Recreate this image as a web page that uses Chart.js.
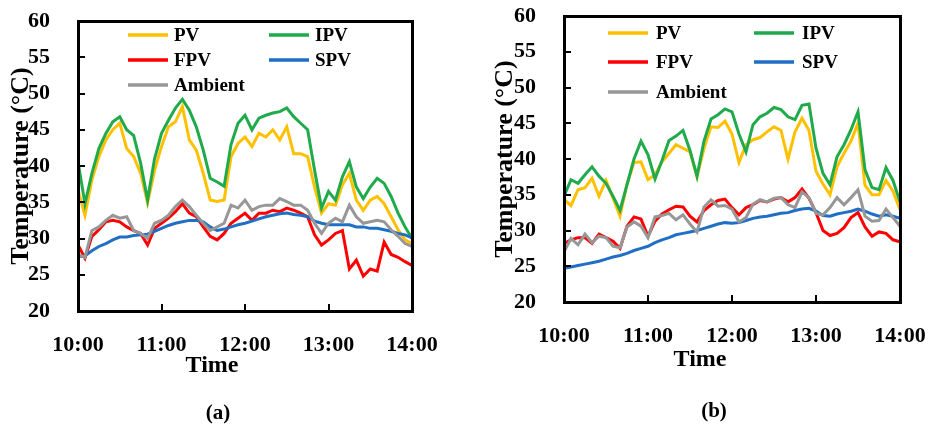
<!DOCTYPE html>
<html>
<head>
<meta charset="UTF-8">
<title>PV module temperatures</title>
<script src="https://cdn.jsdelivr.net/npm/chart.js@4.4.0/dist/chart.umd.min.js"></script>
<style>
  body { margin: 0; background: #fff; }
  #wrap { position: relative; width: 928px; height: 429px; overflow: hidden;
          font-family: 'Liberation Serif', 'Times New Roman', serif; font-weight: bold; color: #000; }
  #wrap canvas { position: absolute; top: 0; }
  .lbl { position: absolute; transform: translate(-50%, -50%); white-space: nowrap; }
  .box { position: absolute; border: 3px solid #000; box-sizing: border-box; z-index: 3; }
  .tick { position: absolute; background: #000; z-index: 3; }
</style>
<script>
// minutes after 10:00, one reading every 5 minutes
var minutes = [0, 5, 10, 15, 20, 25, 30, 35, 40, 45, 50, 55, 60, 65, 70, 75, 80, 85, 90, 95,
    100, 105, 110, 115, 120, 125, 130, 135, 140, 145, 150, 155, 160, 165, 170, 175, 180, 185, 190, 195,
    200, 205, 210, 215, 220, 225, 230, 235, 240];
var timeLabels = ['10:00', '11:00', '12:00', '13:00', '14:00'];
var seriesNames = ['PV', 'IPV', 'FPV', 'SPV', 'Ambient'];

// panel (a)
var pvA = [36.7, 33.2, 38.1, 41.3, 43.6, 45.0, 45.9, 42.4, 41.3, 39.0, 34.9, 39.4, 42.7, 45.4, 46.1, 48.2, 43.6, 42.2, 39.0, 35.3,
    35.1, 35.3, 41.3, 43.1, 44.0, 42.7, 44.5, 44.0, 45.0, 43.6, 45.4, 41.7, 41.7, 41.3, 37.1, 33.5, 34.8, 34.6, 37.4, 39.0,
    35.3, 33.9, 35.3, 35.8, 34.8, 33.0, 31.2, 29.8, 29.3];
var ipvA = [40.6, 34.8, 39.0, 42.4, 44.5, 46.1, 46.8, 45.0, 44.2, 40.4, 35.3, 41.0, 44.5, 46.3, 48.0, 49.2, 47.7, 45.4, 42.2, 38.3,
    37.8, 37.2, 43.0, 45.9, 47.0, 45.0, 46.6, 47.0, 47.3, 47.5, 48.0, 46.8, 45.9, 45.0, 39.4, 34.2, 36.5, 35.3, 38.5, 40.6,
    37.1, 35.5, 37.1, 38.3, 37.6, 35.8, 33.5, 31.6, 30.0];
var fpvA = [29.1, 27.3, 30.3, 31.2, 32.3, 32.5, 32.3, 31.6, 31.1, 30.7, 29.1, 31.4, 32.1, 32.8, 33.7, 34.8, 33.5, 33.0, 31.6, 30.3,
    29.8, 30.7, 32.1, 32.8, 33.5, 32.5, 33.5, 33.5, 33.9, 33.7, 34.2, 33.9, 33.5, 33.0, 30.5, 29.1, 29.8, 30.7, 31.1, 25.8,
    27.0, 24.8, 25.8, 25.5, 29.5, 27.8, 27.4, 26.8, 26.3];
var spvA = [27.5, 27.6, 28.3, 28.9, 29.3, 29.8, 30.2, 30.2, 30.4, 30.5, 30.6, 31.0, 31.4, 31.8, 32.1, 32.3, 32.5, 32.5, 32.3, 31.6,
    31.1, 31.3, 31.6, 31.9, 32.1, 32.4, 32.7, 33.0, 33.2, 33.4, 33.5, 33.3, 33.2, 33.0, 32.4, 32.1, 31.9, 31.9, 31.9, 31.9,
    31.6, 31.6, 31.4, 31.4, 31.2, 31.0, 30.7, 30.5, 30.1];
var ambA = [27.8, 27.4, 31.1, 31.6, 32.5, 33.2, 32.8, 33.0, 31.1, 30.7, 30.0, 32.1, 32.5, 33.2, 34.4, 35.3, 34.4, 33.2, 32.1, 31.1,
    31.6, 32.1, 34.6, 34.2, 35.3, 33.9, 34.4, 34.6, 34.6, 35.5, 35.1, 34.6, 34.6, 33.9, 32.1, 30.7, 32.1, 32.8, 32.3, 34.6,
    33.0, 32.1, 32.3, 32.5, 32.3, 31.2, 30.3, 29.3, 28.9];

// panel (b)
var pvB = [34.3, 33.5, 35.7, 36.0, 37.3, 34.8, 37.0, 34.5, 32.0, 36.5, 39.5, 39.6, 37.1, 37.8, 39.6, 40.8, 42.0, 41.5, 41.0, 37.5,
    41.5, 44.5, 44.4, 45.3, 43.5, 39.5, 42.0, 42.7, 43.0, 43.8, 44.5, 44.0, 40.0, 43.8, 45.7, 44.0, 38.3, 36.5, 35.0, 38.9,
    40.8, 42.5, 45.0, 36.3, 35.0, 35.0, 37.0, 35.5, 32.9];
var ipvB = [34.8, 37.1, 36.6, 37.8, 38.9, 37.6, 36.6, 34.8, 32.8, 36.4, 40.0, 42.5, 40.6, 37.2, 39.8, 42.6, 43.2, 44.0, 41.2, 37.6,
    42.5, 45.6, 46.2, 47.0, 46.6, 43.5, 41.0, 44.8, 45.9, 46.4, 47.2, 46.9, 45.9, 45.5, 47.5, 47.7, 41.5, 38.0, 36.4, 40.3,
    42.0, 44.1, 46.6, 38.5, 36.0, 35.7, 38.8, 37.0, 34.0];
var fpvB = [28.2, 28.7, 29.0, 29.0, 28.2, 29.5, 29.0, 28.5, 27.5, 30.6, 31.9, 31.6, 29.2, 31.3, 32.3, 32.9, 33.4, 33.3, 32.0, 31.2,
    32.8, 33.6, 34.2, 34.4, 33.2, 32.2, 33.2, 33.6, 34.2, 34.0, 34.4, 34.6, 34.0, 34.6, 35.8, 34.5, 32.5, 30.0, 29.3, 29.6,
    30.4, 31.8, 32.5, 30.5, 29.2, 29.8, 29.6, 28.7, 28.4];
var spvB = [24.7, 24.9, 25.1, 25.3, 25.5, 25.7, 26.0, 26.3, 26.5, 26.8, 27.2, 27.5, 27.8, 28.3, 28.7, 29.0, 29.4, 29.6, 29.8, 30.0,
    30.3, 30.6, 30.9, 31.1, 31.0, 31.1, 31.4, 31.7, 31.9, 32.0, 32.2, 32.4, 32.5, 32.8, 33.0, 33.1, 32.7, 32.1, 32.0, 32.3,
    32.5, 32.7, 33.0, 32.7, 32.3, 32.0, 32.2, 32.0, 31.7];
var ambB = [27.0, 28.9, 28.0, 29.5, 28.3, 29.2, 29.0, 27.8, 27.6, 30.5, 31.2, 30.6, 29.0, 31.9, 32.1, 32.4, 31.5, 32.2, 30.9, 29.8,
    33.3, 34.3, 33.4, 33.5, 33.0, 31.2, 31.8, 33.7, 34.3, 34.0, 34.5, 34.6, 33.6, 33.2, 35.4, 34.6, 32.4, 32.2, 33.2, 34.6,
    33.6, 34.6, 35.7, 32.0, 31.3, 31.4, 33.0, 31.8, 30.6];

var seriesColors = ['#FFC000', '#1FAA4B', '#FF0000', '#1F6FC5', '#979797'];

function points(vals) {
    return vals.map(function (v, i) { return {x: minutes[i], y: v}; });
}

// two-column legend inside the plot
function makeLegend() {
    return {
        id: 'insideLegend',
        afterDraw: function (chart, args, opts) {
            var ctx = chart.ctx, a = chart.chartArea;
            ctx.save();
            ctx.font = 'bold 19px "Liberation Serif"';
            ctx.textBaseline = 'middle';
            chart.data.datasets.forEach(function (ds, i) {
                var lx = a.left + opts.cols[i % 2];
                var ly = a.top + opts.rows[Math.floor(i / 2)];
                ctx.fillStyle = ds.borderColor;
                ctx.fillRect(lx, ly - 1.75, opts.lineLen, 3.5);
                ctx.fillStyle = 'black';
                ctx.fillText(ds.label, lx + opts.lineLen + opts.gap, ly + 1);
            });
            ctx.restore();
        }
    };
}

// black box and inward ticks laid over the canvas, placed from the chart's own scales
function addFrame(chart, offsetLeft) {
    var wrap = document.getElementById('wrap');
    var a = chart.chartArea, x = chart.scales.x, y = chart.scales.y;
    var box = document.createElement('div');
    box.className = 'box';
    box.style.left = (offsetLeft + a.left - 1.5) + 'px';
    box.style.top = (a.top - 1.5) + 'px';
    box.style.width = (a.right - a.left + 3) + 'px';
    box.style.height = (a.bottom - a.top + 3) + 'px';
    wrap.appendChild(box);
    x.ticks.forEach(function (t) {
        if (t.value > x.min && t.value < x.max) {
            var d = document.createElement('div');
            d.className = 'tick';
            d.style.left = (offsetLeft + x.getPixelForValue(t.value) - 1) + 'px';
            d.style.top = (a.bottom - 7) + 'px';
            d.style.width = '2px';
            d.style.height = '7px';
            wrap.appendChild(d);
        }
    });
    y.ticks.forEach(function (t) {
        if (t.value > y.min && t.value < y.max) {
            var d = document.createElement('div');
            d.className = 'tick';
            d.style.left = (offsetLeft + a.left) + 'px';
            d.style.top = (y.getPixelForValue(t.value) - 1) + 'px';
            d.style.width = '7px';
            d.style.height = '2px';
            wrap.appendChild(d);
        }
    });
}

function makeChart(id, seriesList, lay) {
    var ctx = document.getElementById(id).getContext('2d');
    var chart = new Chart(ctx, {
        type: 'line',
        data: {
            datasets: seriesList.map(function (vals, i) {
                return {
                    label: seriesNames[i],
                    data: points(vals),
                    borderColor: seriesColors[i],
                    backgroundColor: seriesColors[i],
                    borderWidth: 3,
                    pointRadius: 0,
                    tension: 0,
                    order: seriesList.length - i
                };
            })
        },
        options: {
            responsive: false,
            animation: false,
            layout: {padding: {top: lay.top, right: lay.right, bottom: lay.bottom, left: 0}},
            plugins: {
                legend: {display: false},
                tooltip: {enabled: false},
                insideLegend: lay.legend
            },
            scales: {
                x: {
                    type: 'linear',
                    min: 0,
                    max: 240,
                    grid: {display: false},
                    border: {display: false},
                    ticks: {
                        stepSize: 60,
                        padding: 13,
                        color: '#000',
                        font: {family: 'Liberation Serif', size: 22, weight: 'bold'},
                        callback: function (v) { return timeLabels[v / 60]; }
                    },
                    afterFit: function (s) { s.height = 40; s.paddingLeft = 0; s.paddingRight = 0; }
                },
                y: {
                    min: 20,
                    max: 60,
                    grid: {display: false},
                    border: {display: false},
                    ticks: {
                        stepSize: 5,
                        padding: 20,
                        color: '#000',
                        font: {family: 'Liberation Serif', size: 22, weight: 'bold'}
                    },
                    title: {
                        display: true,
                        text: 'Temperature (\u00B0C)',
                        color: '#000',
                        padding: {top: lay.titlePad, bottom: 0},
                        font: {family: 'Liberation Serif', size: 26, weight: 'bold'}
                    },
                    afterFit: function (s) { s.width = 78; s.paddingTop = 0; s.paddingBottom = 0; }
                }
            }
        },
        plugins: [makeLegend()]
    });
    addFrame(chart, lay.offsetLeft);
    return chart;
}

document.addEventListener('DOMContentLoaded', function () {
    makeChart('chartA', [pvA, ipvA, fpvA, spvA, ambA], {
        offsetLeft: 0, top: 21, right: 52, bottom: 78, titlePad: 6,
        legend: {cols: [50, 191], rows: [14, 39, 64], lineLen: 40, gap: 6}
    });
    makeChart('chartB', [pvB, ipvB, fpvB, spvB, ambB], {
        offsetLeft: 486, top: 16, right: 28, bottom: 87, titlePad: 4,
        legend: {cols: [44, 190], rows: [17, 46, 76], lineLen: 40, gap: 8}
    });
});
</script>
</head>
<body>
<div id="wrap">
    <canvas id="chartA" width="464" height="429" style="left:0"></canvas>
    <canvas id="chartB" width="442" height="429" style="left:486px"></canvas>
    <div class="lbl" style="left:212px; top:364px; font-size:24px">Time</div>
    <div class="lbl" style="left:700px; top:358px; font-size:24px">Time</div>
    <div class="lbl" style="left:218px; top:412px; font-size:21px">(a)</div>
    <div class="lbl" style="left:714px; top:410px; font-size:21px">(b)</div>
</div>
</body>
</html>
